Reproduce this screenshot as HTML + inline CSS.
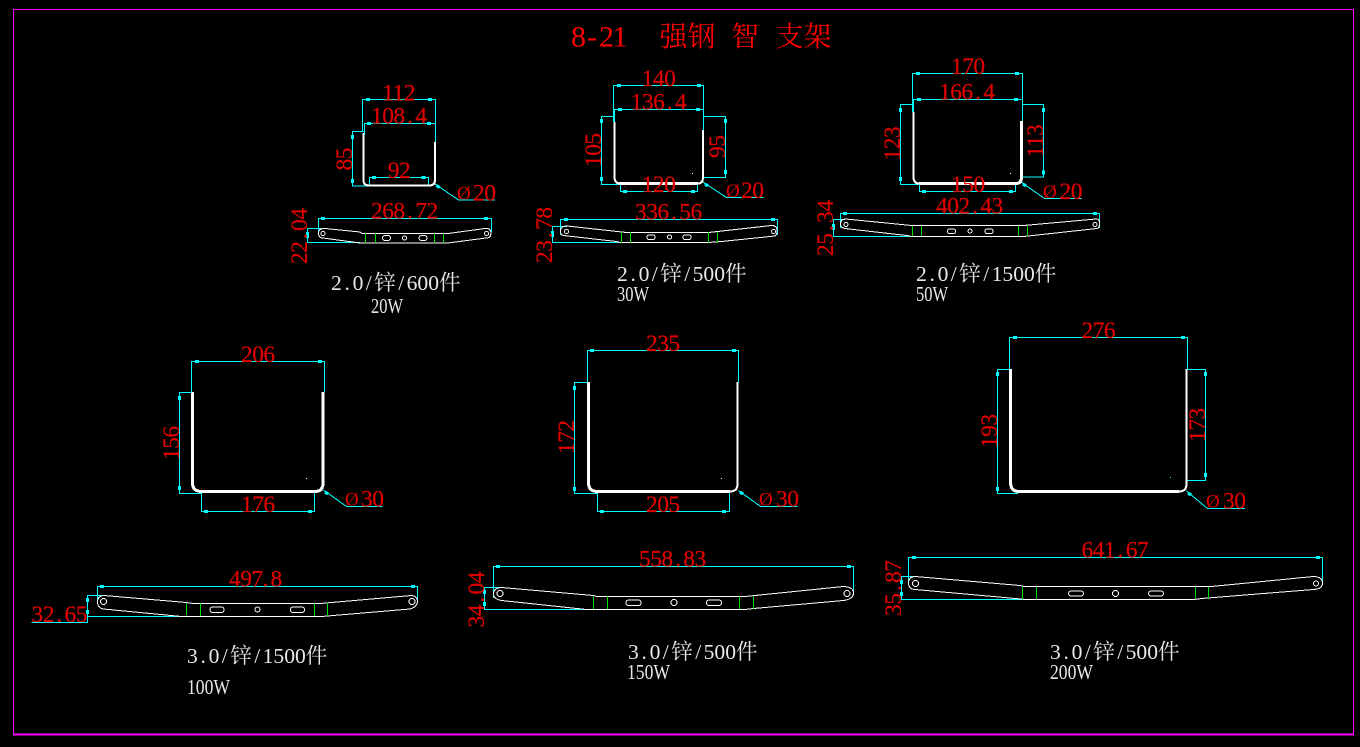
<!DOCTYPE html>
<html lang="zh">
<head>
<meta charset="utf-8">
<title>8-21 强钢 智 支架</title>
<style>
html,body{margin:0;padding:0;background:#000;width:1360px;height:747px;overflow:hidden}
svg{display:block}
path,rect,circle{fill:none;shape-rendering:crispEdges}
.c{stroke:#0ff;stroke-width:1}
.t{stroke:#0ff;stroke-width:3}
.w{stroke:#fff;stroke-width:1}
.W{stroke:#fff;stroke-width:3}
.W2{stroke:#fff;stroke-width:2}
.g{stroke:#00e000;stroke-width:1}
text{font-family:"Liberation Serif","Noto Serif CJK SC",serif}
.d text{font-size:23.5px;letter-spacing:-.55px;fill:#e00000;stroke:#e00000;stroke-width:.2px}
.d text.o{font-size:19px;letter-spacing:0;stroke:none}
.l text{font-size:21.6px;fill:#e8e8e8}
.k{font-size:28px;fill:#f00;font-family:"Noto Serif CJK SC",serif}
</style>
</head>
<body>
<svg width="1360" height="747" viewBox="0 0 1360 747" xmlns="http://www.w3.org/2000/svg">
<rect x="0" y="0" width="1360" height="747" style="fill:#000"/>
<path d="M13.5 9.5H1353.5V734.5H13.5Z" style="stroke:#f0f;stroke-width:1"/>
<path d="M13.5 734.5H1353.5" style="stroke:#f0f;stroke-width:2"/>

<!-- Title -->
<text x="571 587 599 612.5" y="46.5" style="font-size:30px;fill:#f00">8-21</text>
<text class="k" x="659.5" y="46">强钢</text>
<text class="k" x="731" y="46">智</text>
<text class="k" x="775.5" y="46">支架</text>

<!-- Panel 1 -->
<path class="c" d="M362.5 132V99.5H435.5V142M364.5 135V123.5H435.5M364 131.5H352.5V186H369M369.5 185V177.5H428.5V185M435 184L458.5 200H495M318.5 232V218.5H491.5V232M322 228.5H307.5V242.5H360"/>
<path class="t" d="M366 99.5h4M428 99.5h4M367 123.5h4M427 123.5h4M372 177.5h4M421.5 177.5h4M321 218.5h4M484 218.5h4M352.5 135v4M352.5 179v4M307.5 232v6M436.5 185.5l3 2"/>
<path class="W2" d="M363.5 133V180Q363.5 185.5 369 185.5H429Q435 185.5 435 180V142"/>
<path class="w" d="M325 228.5L360 232L362 233.5H448L485 228.5Q491 228 491 233Q491 238 486 238L448 243H360L323 238Q318.5 238 318.5 233Q318.5 228.5 325 228.5Z"/>
<circle class="w" cx="323" cy="233.5" r="2"/><circle class="w" cx="486.5" cy="233.5" r="2"/>
<rect class="w" x="382.5" y="235.5" width="8" height="5" rx="2.5"/><circle class="w" cx="404.5" cy="238" r="2"/><rect class="w" x="419" y="235.5" width="8" height="5" rx="2.5"/>
<path class="g" d="M365.5 233V243M375.5 233V243M434.5 233V243M443.5 233V243"/>

<!-- Panel 2 -->
<path class="c" d="M613.5 122V85.5H703.5V130M614.5 122V109.5H703M601.5 116.5H613M613 116.5H601.5V184.5H620M703 116.5H725.5V177.5H703M620.5 184V191.5H697.5V184M703 182L726.5 197.5H763.5M560.5 235V219.5H777.5V235M567 226.5H552.5V242.5H635"/>
<path class="t" d="M617 85.5h4M697 85.5h4M618 109.5h4M696 109.5h4M623 191.5h4M691 191.5h4M564 219.5h4M771 219.5h4M601.5 119v4M601.5 177v4M725.5 119v4M725.5 170v4M552.5 231v6M705 184l3 2"/>
<path class="W2" d="M614.5 122V177Q614.5 183.5 620 183.5"/>
<path class="W" d="M619 183.5H698"/>
<path class="W2" d="M698 183.5Q703 183.5 703 177V130"/>
<path class="w" d="M567 226L626.5 232.5H708.5L771.5 225.5Q777 225.5 777 230Q777 235 775 236L721.5 241.5L708 242.5H620L616.5 241.5L563.5 235.5Q560.5 235 560.5 231Q560.5 226 567 226Z"/>
<circle class="w" cx="566.5" cy="231.5" r="2"/><circle class="w" cx="773.5" cy="231.5" r="2"/>
<rect class="w" x="647" y="235" width="8" height="4.5" rx="2"/><circle class="w" cx="669.5" cy="237" r="2"/><rect class="w" x="683" y="235" width="8" height="4.5" rx="2"/>
<path class="g" d="M621.5 232V243M630.5 232V243M708.5 232V243M717.5 232V243"/>
<rect x="692" y="173" width="1" height="1" style="fill:#fff"/>

<!-- Panel 3 -->
<path class="c" d="M912.5 112V73.5H1022.5V122M913.5 112V99.5H1021.5M913 104.5H900.5V184.5H919M1022 104.5H1043.5V177H1022M919.5 184V191.5H1015.5V184M1021 182L1044.5 198.5H1081.5M840.5 228V213.5H1099.5V228M845 219.5H833.5V236.5H926.5"/>
<path class="t" d="M916 73.5h4M1015 73.5h4M917 99.5h4M1014 99.5h4M922 191.5h4M1009 191.5h4M843 213.5h4M1093 213.5h4M900.5 108v4M900.5 177v4M1043.5 108v4M1043.5 170.5v4M833.5 224v6M1023 184l3 2"/>
<path class="W2" d="M913.5 112V177Q913.5 183.5 919 183.5"/>
<path class="W" d="M919 183.5H1016"/>
<path class="W" d="M1016 183.5Q1021.5 183.5 1021.5 177V121"/>
<path class="w" d="M846 219L911.5 225.5H1023.5L1096 219Q1099.5 219 1099.5 223Q1099.5 228 1097 228.5L1023.5 236.5H912L906.5 235.5L845 228.5Q840.5 228 840.5 224Q840.5 219 846 219Z"/>
<circle class="w" cx="846" cy="224.5" r="2"/><circle class="w" cx="1095" cy="224.5" r="2"/>
<rect class="w" x="947.5" y="229" width="8" height="4.5" rx="2"/><circle class="w" cx="970" cy="231" r="2"/><rect class="w" x="985" y="229" width="8" height="4.5" rx="2"/>
<path class="g" d="M912.5 226V236M921.5 226V236M1018.5 226V236M1027.5 226V236"/>
<rect x="1010" y="173" width="1" height="1" style="fill:#fff"/>

<!-- Panel 4 -->
<path class="c" d="M191.5 392V361.5H324.5V392M191 392.5H179.5V493.5H201M201.5 493V511.5H314.5V493M323.5 490L346.5 506.5H382.5M97.5 603V586.5H417.5V602M105 595.5H87.5V622.5H31.5M87.5 616.5H208"/>
<path class="t" d="M195 361.5h4M318 361.5h4M204 511.5h4M308 511.5h4M100 586.5h4M411 586.5h4M179.5 396v4M179.5 486v4M87.5 598v4M87.5 610v4M325 492l3 2"/>
<path class="W" d="M192.5 392V483Q192.5 491.5 202 491.5H315Q323 491.5 323 483V392"/>
<path class="w" d="M104 595.5L186.5 602.5L193 603.5H320L411.5 595.5Q417.5 596 417.5 601.5Q417 607 410 609L321.5 616.5H181.5L103.5 609Q97.5 608 97.5 602Q97.5 596 104 595.5Z"/>
<circle class="w" cx="103.5" cy="601.5" r="3"/><circle class="w" cx="412" cy="601.5" r="3"/>
<rect class="w" x="210" y="607" width="14" height="5.5" rx="2.7"/><circle class="w" cx="257.5" cy="609.5" r="2.5"/><rect class="w" x="290.5" y="607" width="14" height="5.5" rx="2.7"/>
<path class="g" d="M186.5 603V615M200.5 603V616M314.5 603V616M327.5 603V616"/>
<rect x="306" y="478" width="1" height="1" style="fill:#fff"/>

<!-- Panel 5 -->
<path class="c" d="M587.5 382V350.5H738.5V382M588 382.5H574.5V493.5H597M597.5 493V511.5H729.5V493M738.5 490.5L760.5 506.5H797.5M493.5 598V566.5H853.5V595M500 587.5H484.5V609.5H618"/>
<path class="t" d="M590 350.5h4M732 350.5h4M600 511.5h4M722 511.5h4M496 566.5h4M847 566.5h4M574.5 386v4M574.5 487v4M484.5 590v4M484.5 602v4M740 492l3 2"/>
<path class="W" d="M588.5 382V483Q588.5 491.5 598 491.5H730"/>
<path class="W2" d="M730 491.5Q737.5 491.5 737.5 484V382"/>
<path class="w" d="M501.5 587.5L593.5 595.5L597 596.5H745L843.5 586.5Q853.5 587 853.5 593Q853.5 599 843.5 600.5L753.5 608.5L745 609.5H586.5L501.5 600.5Q493.5 599 493.5 594Q493.5 588 501.5 587.5Z"/>
<circle class="w" cx="500" cy="593.5" r="3"/><circle class="w" cx="847" cy="593.5" r="3"/>
<rect class="w" x="626" y="600" width="15" height="5.5" rx="2.7"/><circle class="w" cx="674" cy="602.5" r="3"/><rect class="w" x="706.5" y="600" width="15" height="5.5" rx="2.7"/>
<path class="g" d="M593.5 596V609M607.5 596V609M739.5 596V609M753.5 596V609"/>
<rect x="721" y="478" width="1" height="1" style="fill:#fff"/>

<!-- Panel 6 -->
<path class="c" d="M1009.5 369V337.5H1187.5V369M1009 369.5H997.5V493.5H1018M1187 369.5H1205.5V480.5H1187M1186.5 491L1207.5 508.5H1245M908.5 583V557.5H1322.5V585M916 576.5H901.5V599.5H1048"/>
<path class="t" d="M1013 337.5h4M1181 337.5h4M997.5 372v4M997.5 487v4M1205.5 372v4M1205.5 473v4M912 557.5h4M1316 557.5h4M901.5 580v4M901.5 592v4M1188 493l3 2"/>
<path class="W" d="M1010.5 369V482Q1010.5 491.5 1019 491.5H1179"/>
<path class="W2" d="M1179 491.5Q1186.5 491.5 1186.5 484V369"/>
<path class="w" d="M915 576.5L1020 585.5L1024 586.5H1211.5L1313.5 576.5Q1322.5 577 1322.5 583Q1322.5 589 1313.5 589.5L1201.5 598.5L1195 599.5H1026.5L915 589.5Q908.5 589 908.5 583Q908.5 577 915 576.5Z"/>
<circle class="w" cx="915.5" cy="583.5" r="3"/><circle class="w" cx="1316" cy="583.5" r="2.5"/>
<rect class="w" x="1068.5" y="591" width="15" height="5" rx="2.5"/><circle class="w" cx="1115.5" cy="593.5" r="3"/><rect class="w" x="1148.5" y="591" width="15" height="5" rx="2.5"/>
<path class="g" d="M1022.5 587V599M1036.5 587V599M1195.5 587V599M1208.5 587V599"/>
<rect x="1170" y="477" width="1" height="1" style="fill:#0ff"/>

<!-- Dimension text -->
<g class="d">
<text x="382.2" y="100.5">112</text>
<text x="371" y="123.5" dx="0 0 0 2.5 2.8">108.4</text>
<text transform="translate(352,170.5) rotate(-90)">85</text>
<text x="387.8" y="178">92</text>
<text class="o" x="457" y="199.5">Ø</text><text x="473" y="200.5">20</text>
<text x="371" y="218.5" dx="0 0 0 2.5 2.8 0">268.72</text>
<text transform="translate(307,264) rotate(-90)" dx="0 0 2.5 2.8 0">22.04</text>

<text x="641.7" y="86">140</text>
<text x="630.7" y="109.5" dx="0 0 0 2.5 2.8">136.4</text>
<text transform="translate(601,167) rotate(-90)">105</text>
<text transform="translate(725,158) rotate(-90)">95</text>
<text x="641.7" y="192">120</text>
<text class="o" x="726" y="197">Ø</text><text x="741" y="198">20</text>
<text x="635" y="219.5" dx="0 0 0 2.5 2.8 0">336.56</text>
<text transform="translate(552,263) rotate(-90)" dx="0 0 2.5 2.8 0">23.78</text>

<text x="951" y="74">170</text>
<text x="939" y="99.5" dx="0 0 0 2.5 2.8">166.4</text>
<text transform="translate(900,160.5) rotate(-90)">123</text>
<text transform="translate(1043,157.5) rotate(-90)">113</text>
<text x="951" y="192">150</text>
<text class="o" x="1043" y="198">Ø</text><text x="1059.5" y="199">20</text>
<text x="936" y="213.5" dx="0 0 0 2.5 2.8 0">402.43</text>
<text transform="translate(833,256) rotate(-90)" dx="0 0 2.5 2.8 0">25.34</text>

<text x="241" y="362">206</text>
<text transform="translate(179,460) rotate(-90)">156</text>
<text x="241" y="512">176</text>
<text class="o" x="345" y="505.5">Ø</text><text x="361" y="506.5">30</text>
<text x="229" y="586.5" dx="0 0 0 0 2.5 2.8">497.8</text>
<text x="31.5" y="622" dx="0 0 2.5 2.8 0">32.65</text>

<text x="646" y="351">235</text>
<text transform="translate(574,454) rotate(-90)">172</text>
<text x="646" y="512">205</text>
<text class="o" x="759" y="505.5">Ø</text><text x="776" y="506.5">30</text>
<text x="639" y="566.5" dx="0 0 0 2.5 2.8 0">558.83</text>
<text transform="translate(484,627.5) rotate(-90)" dx="0 0 2.5 2.8 0">34.04</text>

<text x="1081.5" y="338">276</text>
<text transform="translate(997,448) rotate(-90)">193</text>
<text transform="translate(1205,442) rotate(-90)">173</text>
<text class="o" x="1206" y="507.5">Ø</text><text x="1223" y="508.5">30</text>
<text x="1081.5" y="557.5" dx="0 0 0 2.5 2.8 0">641.67</text>
<text transform="translate(901,616) rotate(-90)" dx="0 0 2.5 2.8 0">35.87</text>
</g>

<!-- Notes -->
<g class="l">
<text x="331 344.5 352.6 365.8 374.2 398.2 406.6 417.4 428.2 439" y="290">2.0/锌/600件</text>
<text x="371" y="313" textLength="32" lengthAdjust="spacingAndGlyphs">20W</text>
<text x="617 630.5 638.6 651.8 660.2 684.2 692.6 703.4 714.2 725" y="281">2.0/锌/500件</text>
<text x="617" y="301" textLength="32" lengthAdjust="spacingAndGlyphs">30W</text>
<text x="916 929.5 937.6 950.8 959.2 983.2 991.6 1002.4 1013.2 1024 1034.8" y="281">2.0/锌/1500件</text>
<text x="916" y="301" textLength="32" lengthAdjust="spacingAndGlyphs">50W</text>
<text x="187 200.5 208.6 221.8 230.2 254.2 262.6 273.4 284.2 295 305.8" y="663">3.0/锌/1500件</text>
<text x="187" y="694" textLength="43" lengthAdjust="spacingAndGlyphs">100W</text>
<text x="628 641.5 649.6 662.8 671.2 695.2 703.6 714.4 725.2 736" y="659">3.0/锌/500件</text>
<text x="627" y="679" textLength="43" lengthAdjust="spacingAndGlyphs">150W</text>
<text x="1050 1063.5 1071.6 1084.8 1093.2 1117.2 1125.6 1136.4 1147.2 1158" y="659">3.0/锌/500件</text>
<text x="1050" y="679" textLength="43" lengthAdjust="spacingAndGlyphs">200W</text>
</g>
</svg>
</body>
</html>
